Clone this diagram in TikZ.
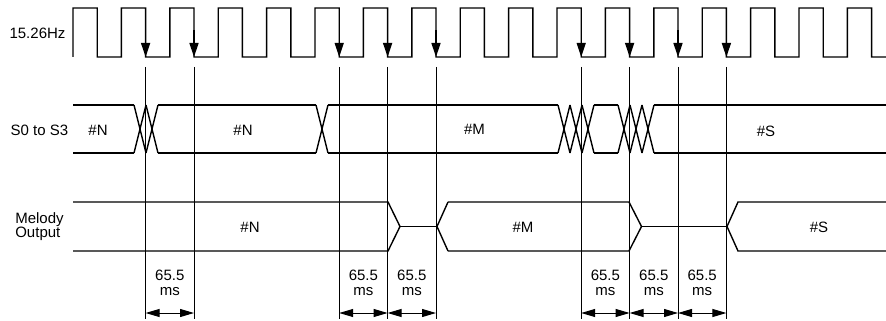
\documentclass[tikz,border=0pt]{standalone}
\usepackage{fontspec}
\setmainfont{Liberation Sans}
\usetikzlibrary{arrows.meta,calc}
\begin{document}
\begin{tikzpicture}[x=1pt,y=-1pt,
  sig/.style={line width=1.4pt, line join=miter},
  marker/.style={line width=0.8pt},
  lbl/.style={font=\fontsize{15}{15}\selectfont, inner sep=0pt},
  clkarrow/.style={-{Triangle[length=14pt,width=9pt]}, line width=1.4pt},
  dimarrow/.style={{Triangle[length=14pt,width=8pt]}-{Triangle[length=14pt,width=8pt]}, line width=1pt}]
\useasboundingbox (0,0) rectangle (886,321);
% row labels
\node[lbl] (clk) at (37.5,33) {15.26Hz};
\node[lbl] (sig) at (39.5,130) {S0 to S3};
\node[lbl, align=left, font=\fontsize{15}{13.5}\selectfont] (mel) at (39.5,226.5) {Melody\\Output};
% clock
\draw[sig] (73,57) \foreach \k in {0,...,15} { -- ++(0,-49) -- ++(24.2,0) -- ++(0,49) -- ++(24.2,0) }
  -- (847.4,8) -- (871.6,8) -- (871.6,57) -- (886,57);
% markers
\foreach \k/\n in {1/a,2/b,5/c,6/d,7/e,10/f,11/g,12/h,13/i} {
  \pgfmathsetmacro{\xx}{97.2+48.4*\k}
  \coordinate (top\n) at (\xx,67);
  \coordinate (bot\n) at (\xx,319);
  \coordinate (dim\n) at (\xx,313);
  \draw[clkarrow] (\xx,30) -- (\xx,57);
  \draw[marker] (top\n) -- (bot\n);
}
% S0 to S3
\draw[sig] (73,105) -- (134,105) (73,153) -- (134,153);
\foreach \x in {134,146,316,558,570,582,618,630,642} {
  \draw[sig] (\x,105) -- ++(12,48) (\x,153) -- ++(12,-48);
}
\draw[sig] (158,105) -- (316,105) (158,153) -- (316,153);
\draw[sig] (328,105) -- (558,105) (328,153) -- (558,153);
\draw[sig] (594,105) -- (618,105) (594,153) -- (618,153);
\draw[sig] (654,105) -- (886,105) (654,153) -- (886,153);
\node[lbl] (sN1) at (98,130) {\#N};
\node[lbl] (sN2) at (243,130) {\#N};
\node[lbl] (sM) at (474.5,129) {\#M};
\node[lbl] (sS) at (766,131) {\#S};
% melody output
\draw[sig] (73,202) -- (388,202) -- (400,226.5) -- (388,251) -- (73,251);
\draw[sig] (400,226.5) -- (437,226.5);
\draw[sig] (448,202) -- (437,226.5) -- (448,251);
\draw[sig] (448,202) -- (629,202) -- (641.5,226.5) -- (629,251) -- (448,251);
\draw[sig] (641.5,226.5) -- (727,226.5);
\draw[sig] (886,202) -- (738,202) -- (727,226.5) -- (738,251) -- (886,251);
\node[lbl] (mN) at (250,227) {\#N};
\node[lbl] (mM) at (523,227) {\#M};
\node[lbl] (mS) at (819,227) {\#S};
% dimensions
\foreach \p/\q in {a/b,c/d,d/e,f/g,g/h,h/i} {
  \draw[dimarrow] (dim\p) -- (dim\q);
  \node[lbl, align=center] at ($(dim\p)!0.5!(dim\q)+(0,-30.5)$) {65.5\\ms};
}
\end{tikzpicture}
\end{document}
